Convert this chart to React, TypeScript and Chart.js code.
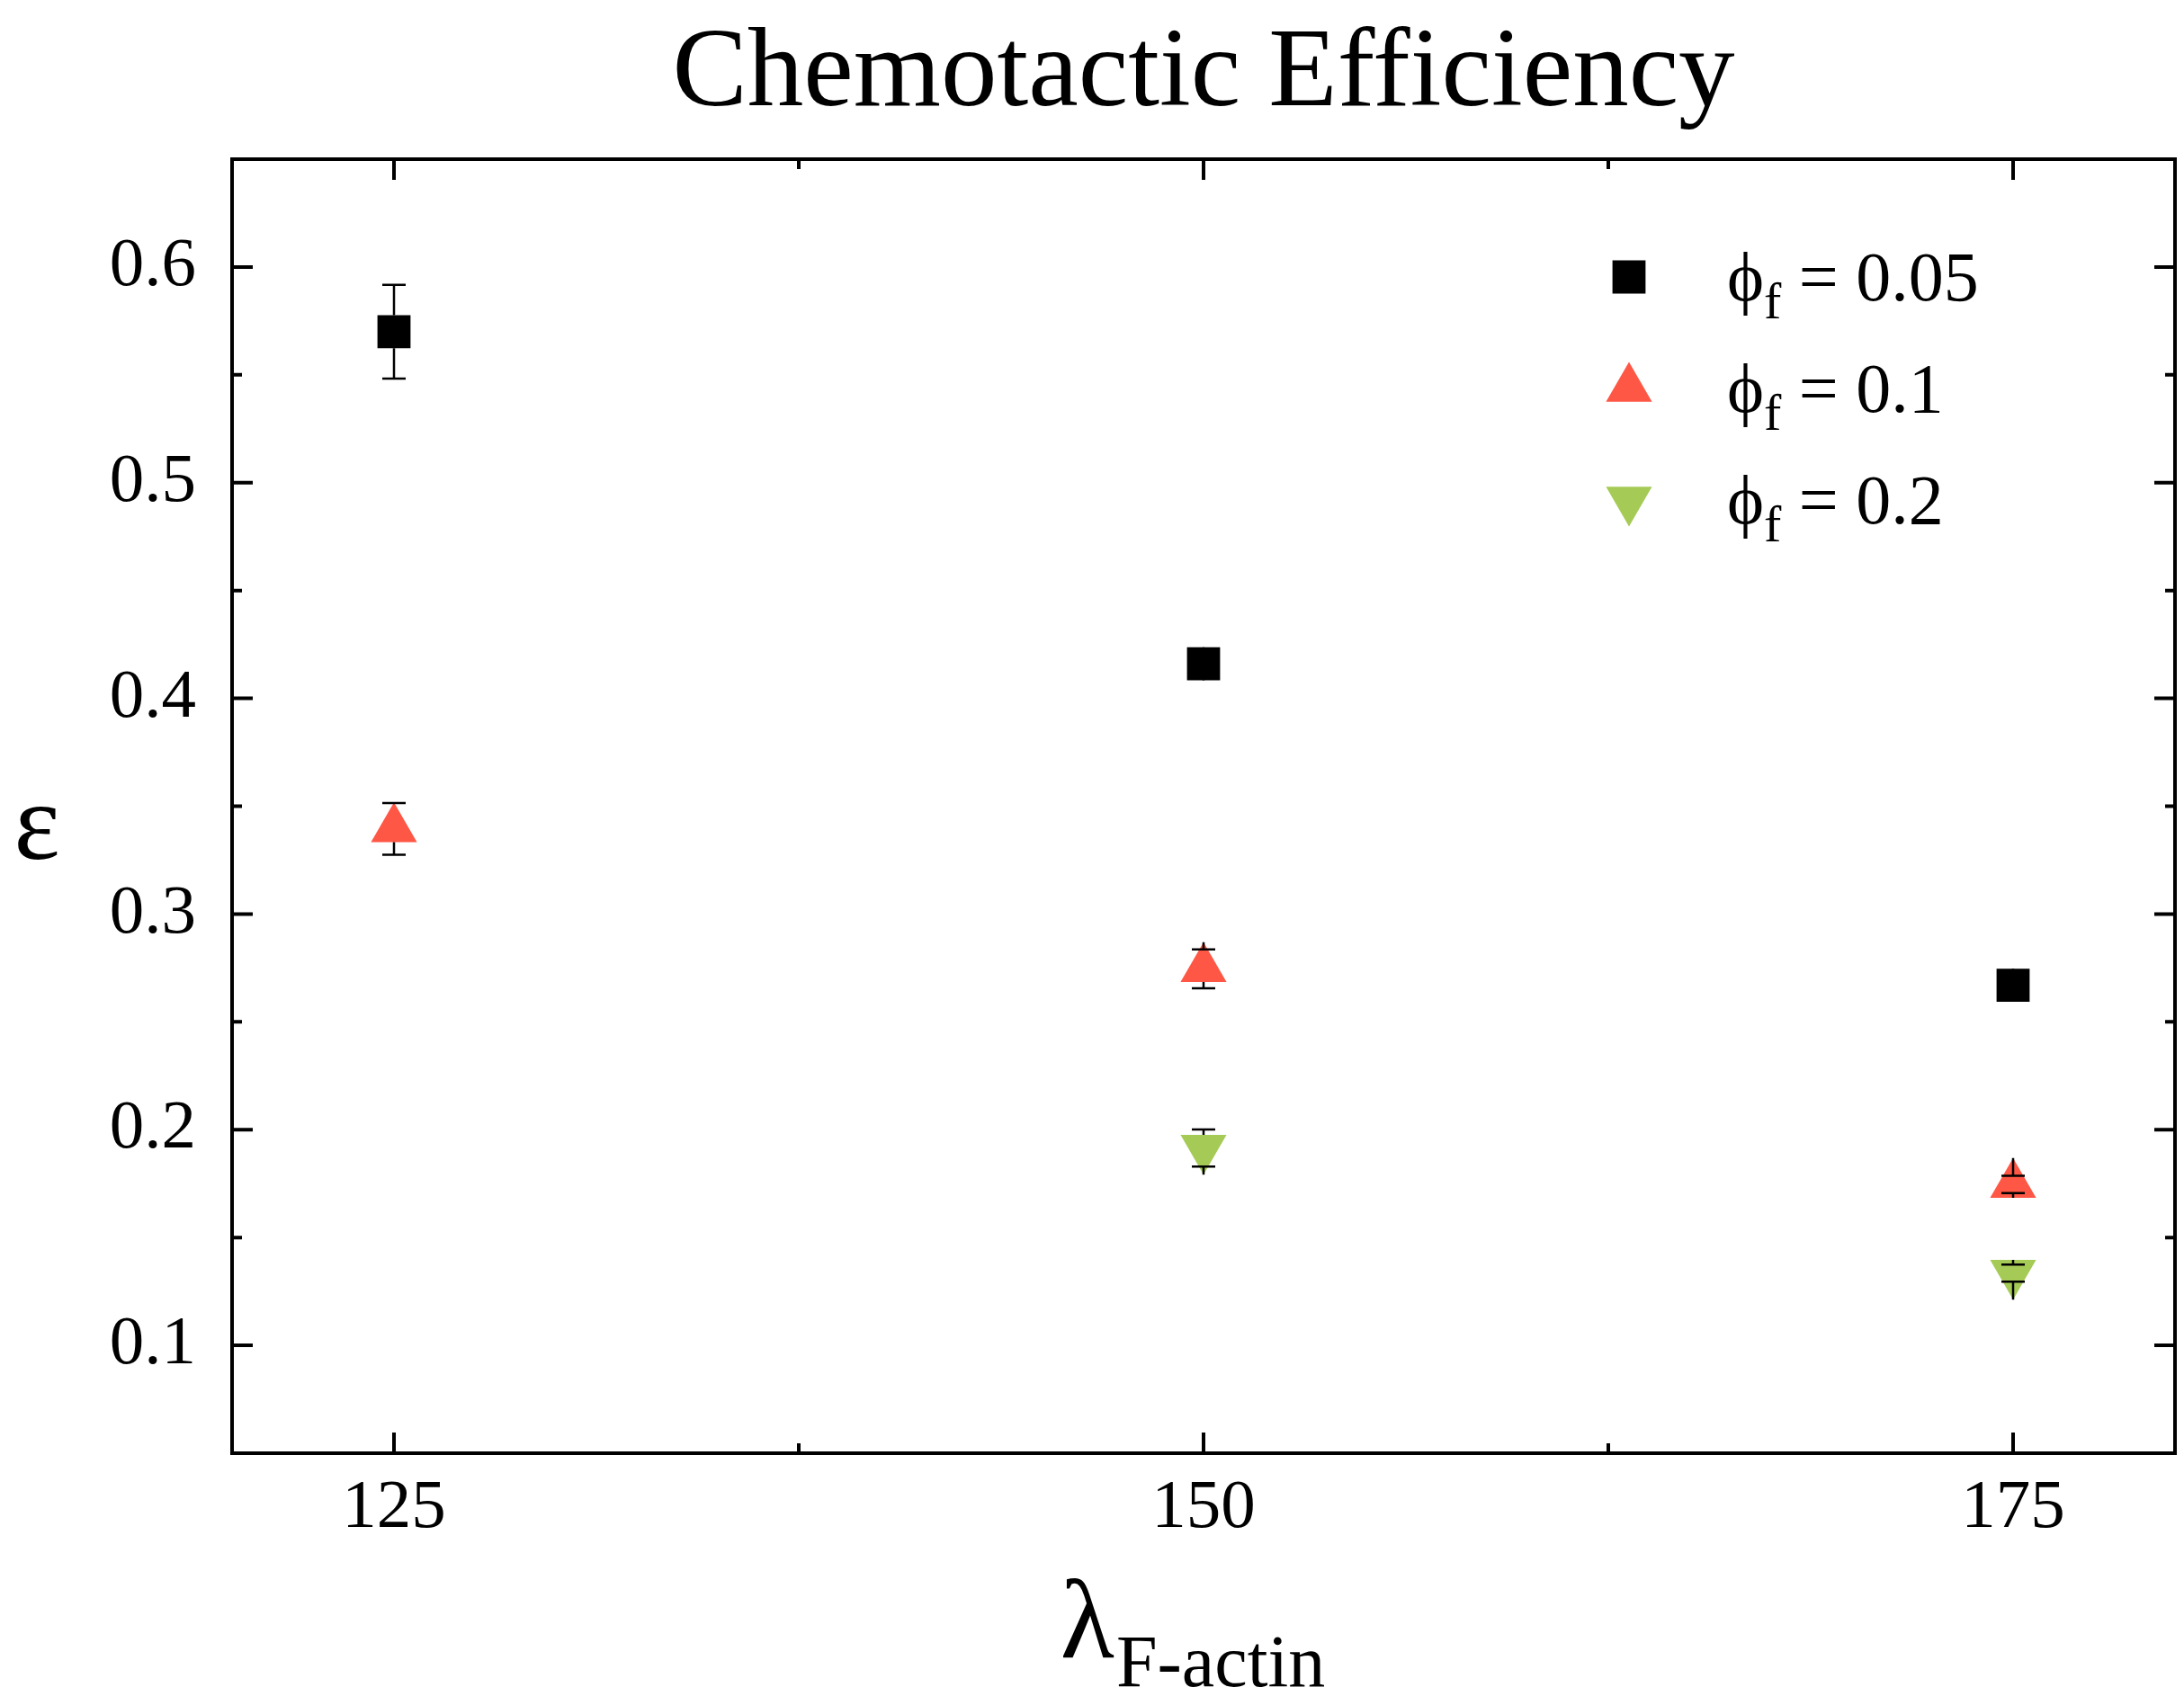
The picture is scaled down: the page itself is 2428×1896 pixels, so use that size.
import { useEffect, useRef } from 'react'
import { Chart, registerables } from 'chart.js'
import { drawPoint } from 'chart.js/helpers'

Chart.register(...registerables)

// lambda_F-actin values on the x axis
const lambdaValues = [125, 150, 175]

// chemotactic efficiency per filament fraction, with error bars
const phi005 = [0.57, 0.416, 0.267]
const phi005Err = [0.0217, 0.003, 0.003]
const phi01 = [0.3395, 0.2746, 0.1746]
const phi01Err = [0.012, 0.009, 0.004]
const phi02 = [null, 0.1915, 0.1335]
const phi02Err = [0, 0.0086, 0.004]

const seriesNames = ['0.05', '0.1', '0.2']

const xTicks = [125, 150, 175]
const xMinorTicks = [137.5, 162.5]
const yTicks = [0.1, 0.2, 0.3, 0.4, 0.5, 0.6]
const yMinorTicks = [0.15, 0.25, 0.35, 0.45, 0.55]

const serif = '"Liberation Serif", "Times New Roman", serif'
const RED = '#FE5745'
const GREEN = '#A5CB56'

type Pt = { x: number; y: number; err: number }

function toPoints(vals: (number | null)[], errs: number[]): Pt[] {
  const out: Pt[] = []
  lambdaValues.forEach((x, i) => {
    const v = vals[i]
    if (v != null) out.push({ x, y: v, err: errs[i] })
  })
  return out
}

// marker top/bottom offsets from centre, same geometry as chart.js drawPoint
function markerExtent(style: string, rotation: number, r: number) {
  if (style === 'rect') return [r * Math.SQRT1_2, r * Math.SQRT1_2]
  if (rotation === 180) return [r / 2, r]
  return [r, r / 2]
}

// Origin style error bars: stems start at the marker edge
const errorBars = {
  id: 'errorBars',
  afterDatasetsDraw(chart: any) {
    const { ctx, scales } = chart
    const y = scales.y
    ctx.save()
    ctx.strokeStyle = '#000'
    ctx.lineWidth = 2.5
    chart.data.datasets.forEach((ds: any, di: number) => {
      const meta = chart.getDatasetMeta(di)
      const [up, down] = markerExtent(ds.pointStyle, ds.pointRotation || 0, ds.pointRadius)
      meta.data.forEach((el: any, i: number) => {
        const p = ds.data[i] as Pt
        if (!p.err) return
        const yPlus = y.getPixelForValue(p.y + p.err)
        const yMinus = y.getPixelForValue(p.y - p.err)
        ctx.beginPath()
        ctx.moveTo(el.x, el.y - up)
        ctx.lineTo(el.x, yPlus)
        ctx.moveTo(el.x, el.y + down)
        ctx.lineTo(el.x, yMinus)
        ctx.moveTo(el.x - 13, yPlus)
        ctx.lineTo(el.x + 13, yPlus)
        ctx.moveTo(el.x - 13, yMinus)
        ctx.lineTo(el.x + 13, yMinus)
        ctx.stroke()
      })
    })
    ctx.restore()
  },
}

// box frame with inward ticks on all four sides
const frame = {
  id: 'frame',
  afterDraw(chart: any) {
    const { ctx, chartArea: a, scales } = chart
    const { x, y } = scales
    ctx.save()
    ctx.strokeStyle = '#000'
    ctx.lineWidth = 4
    ctx.beginPath()
    const xt = (v: number, len: number) => {
      const px = x.getPixelForValue(v)
      ctx.moveTo(px, a.bottom)
      ctx.lineTo(px, a.bottom - len)
      ctx.moveTo(px, a.top)
      ctx.lineTo(px, a.top + len)
    }
    const yt = (v: number, len: number) => {
      const py = y.getPixelForValue(v)
      ctx.moveTo(a.left, py)
      ctx.lineTo(a.left + len, py)
      ctx.moveTo(a.right, py)
      ctx.lineTo(a.right - len, py)
    }
    xTicks.forEach((v) => xt(v, 23))
    xMinorTicks.forEach((v) => xt(v, 11))
    yTicks.forEach((v) => yt(v, 23))
    yMinorTicks.forEach((v) => yt(v, 11))
    ctx.stroke()
    ctx.strokeRect(a.left, a.top, a.right - a.left, a.bottom - a.top)
    ctx.restore()
  },
}

const texts = {
  id: 'texts',
  afterDraw(chart: any) {
    const { ctx, chartArea: a } = chart
    const cx = (a.left + a.right) / 2
    ctx.save()
    ctx.fillStyle = '#000'
    ctx.textBaseline = 'alphabetic'

    // title
    ctx.font = `125px ${serif}`
    ctx.textAlign = 'center'
    ctx.fillText('Chemotactic Efficiency', cx, 117)

    // y axis title
    ctx.font = `122px ${serif}`
    ctx.fillText('ε', 41, 955)

    // x axis title with subscript
    ctx.textAlign = 'left'
    ctx.font = `124px ${serif}`
    const wl = ctx.measureText('λ').width
    ctx.font = `82px ${serif}`
    const ws = ctx.measureText('F-actin').width
    const x0 = cx - 13 - (wl + ws) / 2
    ctx.font = `124px ${serif}`
    ctx.fillText('λ', x0, 1843)
    ctx.font = `82px ${serif}`
    ctx.fillText('F-actin', x0 + wl + 2, 1875)

    // legend
    chart.data.datasets.forEach((ds: any, i: number) => {
      const rowY = a.top + 131 + i * 124
      ctx.fillStyle = ds.backgroundColor
      drawPoint(
        ctx,
        {
          pointStyle: ds.pointStyle,
          rotation: ds.pointRotation || 0,
          radius: ds.pointRadius,
          borderWidth: 0,
        } as any,
        a.right - 607,
        rowY
      )
      ctx.fillStyle = '#000'
      const base = rowY + 26
      let tx = a.right - 498
      ctx.font = `78px ${serif}`
      ctx.fillText('ϕ', tx, base)
      tx += ctx.measureText('ϕ').width
      ctx.font = `58px ${serif}`
      ctx.fillText('f', tx, base + 20)
      tx += ctx.measureText('f').width
      ctx.font = `78px ${serif}`
      ctx.fillText(' = ' + seriesNames[i], tx, base)
    })
    ctx.restore()
  },
}

export default function App() {
  const canvasRef = useRef<HTMLCanvasElement>(null)

  useEffect(() => {
    if (!canvasRef.current) return
    const chart = new Chart(canvasRef.current, {
      type: 'scatter',
      data: {
        datasets: [
          {
            label: 'phi 0.05',
            data: toPoints(phi005, phi005Err),
            pointStyle: 'rect',
            pointRadius: 26,
            backgroundColor: '#000000',
            borderWidth: 0,
          },
          {
            label: 'phi 0.1',
            data: toPoints(phi01, phi01Err),
            pointStyle: 'triangle',
            pointRadius: 29.5,
            backgroundColor: RED,
            borderWidth: 0,
          },
          {
            label: 'phi 0.2',
            data: toPoints(phi02, phi02Err),
            pointStyle: 'triangle',
            pointRotation: 180,
            pointRadius: 29.5,
            backgroundColor: GREEN,
            borderWidth: 0,
          },
        ] as any,
      },
      options: {
        animation: false,
        responsive: false,
        devicePixelRatio: 1,
        layout: { autoPadding: false, padding: { top: 177, right: 10, left: 0, bottom: 0 } },
        plugins: {
          legend: { display: false },
          title: { display: false },
          tooltip: { enabled: false },
        },
        scales: {
          x: {
            type: 'linear',
            min: 120,
            max: 180,
            grid: { display: false },
            border: { display: false },
            afterBuildTicks: (s: any) => {
              s.ticks = xTicks.map((v) => ({ value: v }))
            },
            afterFit: (s: any) => {
              s.height = 280
              s.paddingLeft = 0
              s.paddingRight = 0
            },
            ticks: {
              color: '#000',
              padding: 8,
              autoSkip: false,
              maxRotation: 0,
              font: { family: serif, size: 77 },
              callback: (v: any) => String(v),
            },
          },
          y: {
            type: 'linear',
            min: 0.05,
            max: 0.65,
            grid: { display: false },
            border: { display: false },
            afterBuildTicks: (s: any) => {
              s.ticks = yTicks.map((v) => ({ value: v }))
            },
            afterFit: (s: any) => {
              s.width = 258
              s.paddingTop = 0
              s.paddingBottom = 0
            },
            ticks: {
              color: '#000',
              padding: 32,
              font: { family: serif, size: 77 },
              callback: (v: any) => Number(v).toFixed(1),
            },
          },
        },
      } as any,
      plugins: [errorBars, frame, texts],
    })
    return () => chart.destroy()
  }, [])

  return (
    <div style={{ position: 'fixed', left: 0, top: 0, width: 2428, height: 1896, background: '#fff' }}>
      <canvas ref={canvasRef} width={2428} height={1896} style={{ display: 'block' }} />
    </div>
  )
}
